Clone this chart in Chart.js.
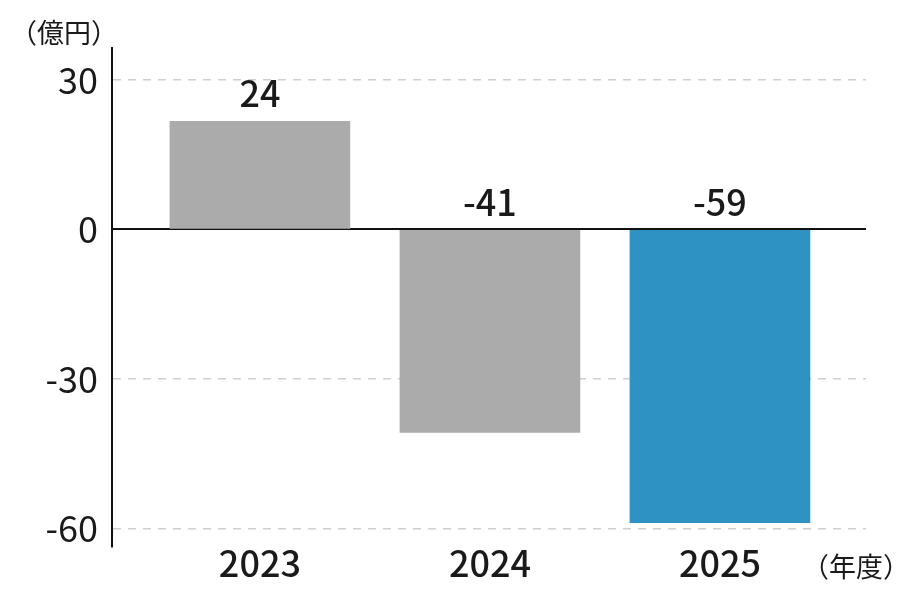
<!DOCTYPE html>
<html lang="ja">
<head>
<meta charset="utf-8">
<title>営業損益</title>
<script src="https://cdn.jsdelivr.net/npm/chart.js@4/dist/chart.umd.min.js"></script>
<style>
    body { margin: 0; background: #fff; }
    canvas { display: block; }
</style>
</head>
<body>
<canvas id="grafico" width="900" height="600"></canvas>
<script>
// Dados do gráfico
const anos = ['2023', '2024', '2025'];
const valores = [21.7, -40.7, -58.8];
const rotulos = ['24', '-41', '-59'];
const cores = ['#ababab', '#ababab', '#2e92c3'];
const ticksY = [-60, -30, 0, 30];

const fonte = '"Noto Sans CJK JP", "Noto Sans", sans-serif';
const fonteMedia = '"Noto Sans CJK JP Medium", "Noto Sans CJK JP", sans-serif';

// Rótulos de valor e unidades
const textosExtras = {
    id: 'textosExtras',
    afterDatasetsDraw(chart) {
        const ctx = chart.ctx;
        const meta = chart.getDatasetMeta(0);
        ctx.save();
        ctx.fillStyle = '#1a1a1a';
        ctx.font = '36px ' + fonteMedia;
        ctx.textAlign = 'center';
        ctx.textBaseline = 'alphabetic';
        meta.data.forEach((bar, i) => {
            const topo = Math.min(bar.y, bar.base);
            ctx.fillText(rotulos[i], bar.x, topo - 14);
        });

        ctx.font = '27px ' + fonte;
        ctx.textAlign = 'left';
        ctx.textBaseline = 'middle';
        ctx.fillText('（億円）', 10, 33);
        ctx.fillText('（年度）', 802, 567);
        ctx.restore();
    }
};

const config = {
    type: 'bar',
    data: {
        datasets: [{
            data: valores.map((v, i) => ({ x: i, y: v })),
            backgroundColor: cores,
            barThickness: 180
        }]
    },
    options: {
        responsive: false,
        animation: false,
        layout: {
            padding: { top: 48, right: 34, left: 0, bottom: 0 }
        },
        plugins: {
            legend: { display: false },
            tooltip: { enabled: false }
        },
        scales: {
            x: {
                type: 'linear',
                offset: false,
                min: -0.643,
                max: 2.635,
                afterBuildTicks: (scale) => {
                    scale.ticks = anos.map((a, i) => ({ value: i }));
                },
                afterFit: (scale) => { scale.height = 53; },
                grid: { display: false, drawTicks: false, offset: false },
                border: { display: false },
                ticks: {
                    padding: -5,
                    color: '#1a1a1a',
                    font: { size: 36, family: fonteMedia },
                    callback: (v) => anos[v]
                }
            },
            y: {
                min: -63.7,
                max: 36.4,
                afterBuildTicks: (scale) => {
                    scale.ticks = ticksY.map(v => ({ value: v }));
                },
                afterFit: (scale) => { scale.width = 112; },
                grid: {
                    drawTicks: false,
                    color: (c) => c.tick && c.tick.value === 0 ? '#111' : '#d0d0d0',
                    lineWidth: (c) => c.tick && c.tick.value === 0 ? 2 : 1.5
                },
                border: {
                    display: true,
                    color: '#111',
                    width: 2,
                    dash: (c) => c.tick && c.tick.value === 0 ? [] : [8, 7]
                },
                ticks: {
                    padding: 14,
                    color: '#1a1a1a',
                    font: { size: 36, family: fonte }
                }
            }
        }
    },
    plugins: [textosExtras]
};

// Inicializar o gráfico
const grafico = new Chart(document.getElementById('grafico').getContext('2d'), config);
</script>
</body>
</html>
